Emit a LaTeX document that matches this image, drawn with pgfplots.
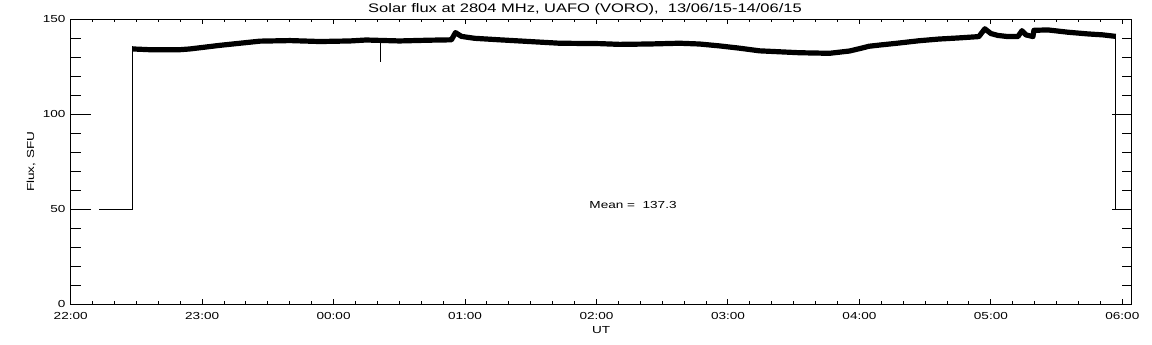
\documentclass[border=0pt]{standalone}
\usepackage{fontspec}
\setmainfont{Liberation Sans}[FakeStretch=1.33]
\usepackage{pgfplots}
\pgfplotsset{compat=1.18}
\newcommand{\tf}{\fontsize{10.2}{12}\selectfont}
\begin{document}
\begin{tikzpicture}[x=1pt,y=1pt]
\useasboundingbox (0,0) rectangle (1152,345);
\begin{axis}[
  at={(70.7pt,40.7pt)}, anchor=south west,
  scale only axis, width=1061pt, height=285pt,
  xmin=0, xmax=8.0716, ymin=0, ymax=150,
  xtick={0,1,2,3,4,5,6,7,8},
  xticklabels={22:00,23:00,00:00,01:00,02:00,03:00,04:00,05:00,06:00},
  minor x tick num=5,
  ytick=\empty,
  major tick length=5pt, minor tick length=3pt,
  tick align=inside, xtick pos=both,
  axis line style={line width=1pt},
  tick style={black, line width=1pt},
  xticklabel style={font=\tf, anchor=center, yshift=-11.2pt, inner sep=0pt},
  every axis title shift=0pt,
  title={Solar flux at 2804 MHz, UAFO (VORO),\ \ 13/06/15-14/06/15},
  title style={at={(axis description cs:0.4847,1)}, anchor=center, yshift=9.8pt, inner sep=0pt, font=\fontsize{12.4}{14}\selectfont},
  xlabel={UT},
  xlabel style={at={(axis description cs:0.5,0)}, anchor=center, yshift=-25.7pt, inner sep=0pt, font=\tf},
  ylabel={Flux, SFU},
  ylabel style={at={(axis description cs:-0.0374,0.5)}, anchor=center, inner sep=0pt, font=\tf},
  clip=false,
]
% start: flat at 50, then jump
\addplot[black, line width=1.2pt] coordinates {(0.2153,50) (0.4686,50) (0.4686,135.8)};
% main band
\addplot[black, line width=5.2pt, line join=round] coordinates {
(0.4686,134.4) (0.60,134.0) (0.8315,134.0) (0.9076,134.4) (1.1358,136.3)
(1.4401,138.5) (1.6683,138.8) (1.8965,138.3) (2.1248,138.6) (2.2465,139.1)
(2.5009,138.6) (2.7292,139.0) (2.8965,139.2) (2.9270,143.0) (2.9726,141.0)
(3.0715,140.0) (3.2617,139.2) (3.4899,138.3) (3.7182,137.4) (4.0224,137.2)
(4.1746,136.8) (4.4028,137.0) (4.6310,137.4) (4.7832,137.0) (4.9353,136.0)
(5.0875,134.8) (5.2397,133.4) (5.5439,132.4) (5.7722,132.1) (5.9243,133.3)
(6.0156,134.8) (6.0715,135.8) (6.1476,136.4) (6.2998,137.5) (6.4519,138.7)
(6.6041,139.6) (6.7562,140.2) (6.9084,140.9) (6.9540,145.0) (7.0000,142.5)
(7.0536,141.5) (7.1297,140.9) (7.2058,140.9) (7.2362,144.0) (7.2666,141.8)
(7.3199,140.9) (7.3275,144.2) (7.4340,144.4) (7.5862,143.2) (7.7383,142.3)
(7.8524,141.8) (7.9498,141.0)};
% spike
\addplot[black, line width=1.2pt] coordinates {(2.3553,139.0) (2.3553,127.4)};
% end drop
\addplot[black, line width=1.2pt] coordinates {(7.9498,141.0) (7.9498,50)};
\node[anchor=west, inner sep=0pt, font=\tf] at (axis cs:3.945,52.3) {Mean =\ \ 137.3};
\end{axis}
\begin{axis}[
  at={(70.7pt,40.7pt)}, anchor=south west,
  scale only axis, width=1061pt, height=285pt,
  xmin=0, xmax=8.0716, ymin=0, ymax=150,
  xtick=\empty,
  ytick={0,50,100,150}, yticklabels={0,50,100,150},
  minor y tick num=4,
  major tick length=20pt, minor tick length=10pt,
  tick align=inside, ytick pos=both,
  axis line style={line width=1pt},
  tick style={black, line width=1pt},
  yticklabel style={font=\tf, anchor=east, inner sep=0pt, xshift=-5pt},
]
\addplot[draw=none] coordinates {(0,0)};
\end{axis}
\end{tikzpicture}
\end{document}
